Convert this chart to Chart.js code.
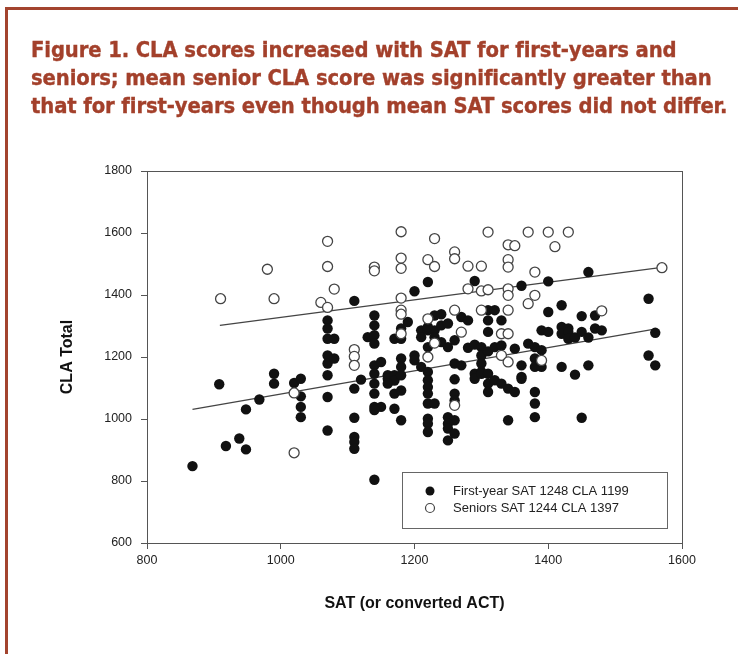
<!DOCTYPE html>
<html>
<head>
<meta charset="utf-8">
<script src="https://cdn.jsdelivr.net/npm/chart.js@4.4.1/dist/chart.umd.min.js"></script>
<style>
  body { margin: 0; background: #fff; }
  #wrap { position: relative; width: 738px; height: 654px; overflow: hidden; }
  #frame { position: absolute; left: 5px; top: 7px; width: 800px; height: 700px;
           border-top: 3px solid #a3442e; border-left: 3px solid #a3442e; }
  #title { position: absolute; left: 31px; top: 36px; z-index: 2;
           font-family: "Liberation Sans Narrow", "DejaVu Sans Condensed", sans-serif;
           font-stretch: condensed; font-weight: bold; font-size: 21.8px; line-height: 28px;
           letter-spacing: -0.1px; -webkit-text-stroke: 0.35px #a3402b;
           color: #a3402b; white-space: nowrap; }
  #myChart { position: absolute; left: 0; top: 0; }
</style>
</head>
<body>
<div id="wrap">
  <div id="frame"></div>
  <div id="title">Figure 1. CLA scores increased with SAT for first-years and<br>seniors; mean senior CLA score was significantly greater than<br>that for first-years even though mean SAT scores did not differ.</div>
  <canvas id="myChart" width="738" height="654"></canvas>
</div>
<script>
var firstYearSAT = [
  868, 908, 918, 938, 948, 948, 968, 990, 990, 1020, 1030, 1030, 1030, 1030,
  1070, 1070, 1070, 1080, 1070, 1070, 1080, 1070, 1070, 1070,
  1110, 1110, 1110, 1110, 1110, 1110, 1120, 1130,
  1140, 1140, 1140, 1140, 1140, 1150, 1140, 1140, 1140, 1140, 1150, 1140, 1140,
  1160, 1160, 1170, 1170, 1160, 1170, 1180, 1170, 1170,
  1180, 1180, 1180, 1180, 1180, 1180, 1190, 1200, 1200, 1200, 1210, 1210, 1210,
  1220, 1220, 1220, 1220, 1220, 1220, 1220, 1220, 1220, 1220, 1220, 1230, 1230, 1230, 1220, 1230,
  1240, 1240, 1240, 1250, 1250, 1260, 1260, 1260, 1260, 1260, 1250, 1260, 1250, 1250, 1260, 1250,
  1270, 1270, 1280, 1280, 1290, 1290, 1290, 1290, 1300, 1300, 1300, 1300, 1300,
  1310, 1310, 1310, 1310, 1310, 1310, 1310, 1320, 1320, 1320, 1330, 1330, 1330,
  1340, 1340, 1350, 1350, 1360, 1360, 1360, 1360, 1370, 1380, 1380, 1380, 1380, 1380, 1380,
  1390, 1390, 1390, 1400, 1400, 1400, 1420, 1420, 1420, 1420, 1430, 1430, 1430,
  1440, 1440, 1450, 1450, 1450, 1460, 1460, 1460, 1470, 1470, 1480,
  1550, 1550, 1560, 1560
];
var firstYearCLA = [
  848, 1112, 913, 937, 902, 1031, 1063, 1146, 1114, 1116, 1130, 1073, 1039, 1006,
  1318, 1292, 1259, 1259, 1205, 1179, 1195, 1141, 1071, 963,
  1381, 1098, 1004, 942, 926, 904, 1127, 1264,
  1334, 1302, 1270, 1243, 1173, 1184, 1146, 1114, 1082, 1039, 1039, 1029, 804,
  1141, 1130, 1141, 1124, 1114, 1082, 1092, 1259, 1033,
  1292, 1259, 1195, 1168, 1141, 996, 1313, 1412, 1205, 1189, 1286, 1264, 1168,
  1442, 1286, 1232, 1152, 1125, 1103, 1082, 1050, 1001, 985, 958, 1050, 1334, 1286, 1297, 1264,
  1338, 1302, 1248, 1308, 1232, 1254, 1179, 1128, 1082, 1060, 1006, 996, 985, 969, 953, 931,
  1329, 1173, 1318, 1230, 1445, 1240, 1146, 1130, 1232, 1205, 1179, 1152, 1146,
  1351, 1318, 1281, 1218, 1146, 1114, 1087, 1351, 1232, 1125, 1318, 1237, 1114,
  1098, 996, 1087, 1227, 1430, 1173, 1136, 1130, 1243, 1232, 1195, 1168, 1087, 1050, 1006,
  1286, 1222, 1168, 1444, 1345, 1281, 1367, 1297, 1275, 1168, 1292, 1281, 1259,
  1263, 1143, 1332, 1281, 1004, 1474, 1263, 1173, 1334, 1292, 1286,
  1388, 1205, 1278, 1173
];
var seniorSAT = [
  910, 980, 990, 1020, 1020, 1060, 1070, 1070, 1070, 1080, 1110, 1110, 1110,
  1140, 1140, 1180, 1180, 1180, 1180, 1180, 1180, 1180,
  1220, 1220, 1220, 1230, 1230, 1230, 1260, 1260, 1260, 1260, 1270,
  1280, 1280, 1300, 1300, 1300, 1310, 1310, 1330, 1330,
  1340, 1340, 1340, 1340, 1340, 1340, 1340, 1340, 1350, 1370, 1370,
  1380, 1380, 1390, 1400, 1410, 1430, 1480, 1570
];
var seniorCLA = [
  1388, 1483, 1388, 1084, 891, 1376, 1360, 1573, 1492, 1419, 1224, 1202, 1173,
  1490, 1478, 1604, 1519, 1486, 1390, 1351, 1338, 1275,
  1514, 1323, 1200, 1582, 1492, 1245, 1539, 1517, 1351, 1044, 1280,
  1493, 1420, 1493, 1413, 1351, 1603, 1417, 1275, 1205,
  1562, 1514, 1490, 1420, 1399, 1351, 1275, 1184, 1559, 1603, 1372,
  1474, 1399, 1189, 1603, 1556, 1603, 1349, 1488
];
// regression lines (end points)
var firstFitSAT = [868, 1557];
var firstFitCLA = [1031, 1289];
var seniorFitSAT = [909, 1567];
var seniorFitCLA = [1302, 1488];

var xTicks = [800, 1000, 1200, 1400, 1600];
var yTicks = [600, 800, 1000, 1200, 1400, 1600, 1800];

var legendLabels = ['First-year SAT 1248 CLA 1199', 'Seniors SAT 1244 CLA 1397'];

function toPoints(xs, ys) {
  return xs.map(function (x, i) { return { x: x, y: ys[i] }; });
}

var frameBox = {
  id: 'frameBox',
  afterDatasetsDraw: function (chart) {
    var ctx = chart.ctx, a = chart.chartArea;
    ctx.save();
    ctx.strokeStyle = '#555';
    ctx.lineWidth = 1;
    ctx.strokeRect(a.left + 0.5, a.top + 0.5, a.right - a.left, a.bottom - a.top);

    // legend box inside the plot
    var bx = a.right - 280, by = a.bottom - 71, bw = 265, bh = 56;
    ctx.fillStyle = '#fff';
    ctx.fillRect(bx, by, bw, bh);
    ctx.strokeStyle = '#666';
    ctx.strokeRect(bx + 0.5, by + 0.5, bw, bh);
    ctx.font = '13px "Liberation Sans", Arial, sans-serif';
    ctx.textBaseline = 'middle';
    for (var i = 0; i < 2; i++) {
      var yy = by + 19 + i * 17;
      ctx.beginPath();
      ctx.arc(bx + 28, yy, 4.5, 0, Math.PI * 2);
      if (i === 0) { ctx.fillStyle = '#111'; ctx.fill(); }
      else { ctx.fillStyle = '#fff'; ctx.fill(); ctx.strokeStyle = '#444'; ctx.lineWidth = 1.2; ctx.stroke(); }
      ctx.fillStyle = '#222';
      ctx.fillText(legendLabels[i], bx + 51, yy);
    }
    ctx.restore();
  }
};

var tickFont = { family: '"Liberation Sans", Arial, sans-serif', size: 12.5 };
var titleFont = { family: '"Liberation Sans", Arial, sans-serif', size: 16, weight: 'bold' };
function plain(v) { return String(v); }

new Chart(document.getElementById('myChart'), {
  type: 'scatter',
  data: {
    datasets: [
      {
        label: legendLabels[1],
        data: toPoints(seniorSAT, seniorCLA),
        pointRadius: 5,
        pointBackgroundColor: '#fff',
        pointBorderColor: '#444',
        pointBorderWidth: 1.3,
        order: 0
      },
      {
        label: legendLabels[0],
        data: toPoints(firstYearSAT, firstYearCLA),
        pointRadius: 5.2,
        pointBackgroundColor: '#111',
        pointBorderColor: '#111',
        pointBorderWidth: 0,
        order: 1
      },
      {
        type: 'line',
        label: 'first-year fit',
        data: toPoints(firstFitSAT, firstFitCLA),
        borderColor: '#444',
        borderWidth: 1.3,
        pointRadius: 0,
        fill: false,
        order: 2
      },
      {
        type: 'line',
        label: 'senior fit',
        data: toPoints(seniorFitSAT, seniorFitCLA),
        borderColor: '#444',
        borderWidth: 1.3,
        pointRadius: 0,
        fill: false,
        order: 2
      }
    ]
  },
  options: {
    responsive: false,
    animation: false,
    layout: { padding: { left: 0, top: 171, right: 56, bottom: 0 } },
    plugins: {
      legend: { display: false },
      tooltip: { enabled: false }
    },
    scales: {
      x: {
        type: 'linear',
        min: 800, max: 1600,
        afterBuildTicks: function (s) { s.ticks = xTicks.map(function (v) { return { value: v }; }); },
        afterFit: function (s) { s.height = 111; },
        grid: { drawOnChartArea: false, drawTicks: true, tickLength: 6, color: '#555' },
        border: { color: '#555', width: 1 },
        ticks: { font: tickFont, color: '#222', padding: 4, maxRotation: 0, callback: plain },
        title: { display: true, text: 'SAT (or converted ACT)', font: titleFont, color: '#111',
                 padding: { top: 0, bottom: 41 } }
      },
      y: {
        type: 'linear',
        min: 600, max: 1800,
        afterBuildTicks: function (s) { s.ticks = yTicks.map(function (v) { return { value: v }; }); },
        afterFit: function (s) { s.width = 147; },
        grid: { drawOnChartArea: false, drawTicks: true, tickLength: 6, color: '#555' },
        border: { color: '#555', width: 1 },
        ticks: { font: tickFont, color: '#222', padding: 9, callback: plain },
        title: { display: true, text: 'CLA Total', font: titleFont, color: '#111',
                 padding: { top: 58, bottom: 0 } }
      }
    }
  },
  plugins: [frameBox]
});
</script>
</body>
</html>
